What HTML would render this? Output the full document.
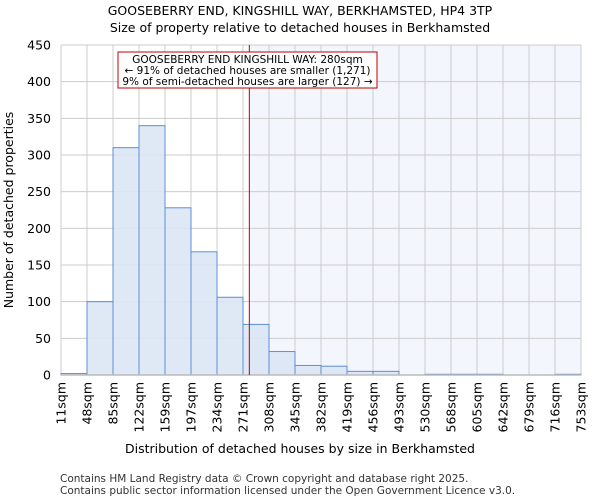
<!DOCTYPE html>
<html><head><meta charset="utf-8"><style>
body{margin:0;background:#fff;font-family:"DejaVu Sans","Liberation Sans",sans-serif}
</style></head><body>
<svg id="c" width="600" height="500" xmlns="http://www.w3.org/2000/svg" font-family="DejaVu Sans, Liberation Sans, sans-serif">
<text x="300" y="15" text-anchor="middle" font-size="12.5">GOOSEBERRY END, KINGSHILL WAY, BERKHAMSTED, HP4 3TP</text>
<text x="300" y="32" text-anchor="middle" font-size="12.5">Size of property relative to detached houses in Berkhamsted</text>
<g id="plot"></g>
<text x="300" y="453" text-anchor="middle" font-size="12.5">Distribution of detached houses by size in Berkhamsted</text>
<text transform="translate(13,210) rotate(-90)" text-anchor="middle" font-size="12.5">Number of detached properties</text>
<text x="60" y="482" font-size="10.5" fill="#333">Contains HM Land Registry data © Crown copyright and database right 2025.</text>
<text x="60" y="494" font-size="10.5" fill="#333">Contains public sector information licensed under the Open Government Licence v3.0.</text>
</svg>
<script>
const edges=[11,48,85,122,159,197,234,271,308,345,382,419,456,493,530,568,605,642,679,716,753];
const tickLabels=["11sqm","48sqm","85sqm","122sqm","159sqm","197sqm","234sqm","271sqm","308sqm","345sqm","382sqm","419sqm","456sqm","493sqm","530sqm","568sqm","605sqm","642sqm","679sqm","716sqm","753sqm"];
const counts=[2,100,310,340,228,168,106,69,32,13,12,5,5,0,1,1,1,0,0,1];
const yTicks=[0,50,100,150,200,250,300,350,400,450];
const propertySize=280;
const NS="http://www.w3.org/2000/svg";
const L=61,R=581,T=45,B=375,YMAX=450;
const xi=i=>L+i*(R-L)/(edges.length-1);
const xv=v=>{for(let i=0;i<edges.length-1;i++){if(v<=edges[i+1])return xi(i)+(v-edges[i])/(edges[i+1]-edges[i])*(xi(i+1)-xi(i));}return R;};
const ys=v=>B-v/YMAX*(B-T);
const g=document.getElementById('plot');
function mk(t,a){const e=document.createElementNS(NS,t);for(const k in a)e.setAttribute(k,a[k]);g.appendChild(e);return e;}
const px=xv(propertySize);
let e=mk('rect',{x:px,y:T,width:R-px,height:B-T,fill:'#f3f6fd'});


yTicks.forEach(t=>{
 let l=mk('line',{x1:L,x2:R,y1:ys(t),y2:ys(t),stroke:'#cccccc','stroke-width':1});
 
 
 let tx=mk('text',{x:L-10,y:ys(t)+4.5,'text-anchor':'end','font-size':12.5});
 tx.textContent=t;
 
 
});
edges.forEach((v,i)=>{
 let l=mk('line',{x1:xi(i),x2:xi(i),y1:T,y2:B,stroke:'#cccccc','stroke-width':1});
 
 
 let tx=mk('text',{transform:`translate(${xi(i)+4.5},${B+7}) rotate(-90)`,'text-anchor':'end','font-size':12.5});
 tx.textContent=tickLabels[i];
 
 
});
counts.forEach((c,i)=>{
 if(c<=0)return;
 let r=mk('rect',{x:xi(i),y:ys(c),width:xi(i+1)-xi(i),height:B-ys(c),fill:'#dce6f4',stroke:'#5b8fd6','stroke-width':1,'fill-opacity':0.9});
 
 
});
e=mk('line',{x1:L,x2:R,y1:B,y2:B,stroke:'#bbb','stroke-width':1.5});


e=mk('line',{x1:px,x2:px,y1:T,y2:B,stroke:'#c00000','stroke-width':1});


e=mk('rect',{x:118,y:52,width:259,height:36,fill:'#fff',stroke:'#c00000','stroke-width':1});


["GOOSEBERRY END KINGSHILL WAY: 280sqm","← 91% of detached houses are smaller (1,271)","9% of semi-detached houses are larger (127) →"].forEach((s,i)=>{
 let tx=mk('text',{x:247.5,y:63+i*11,'text-anchor':'middle','font-size':10.5});
 tx.textContent=s;
 
 
});
</script>
</body></html>
